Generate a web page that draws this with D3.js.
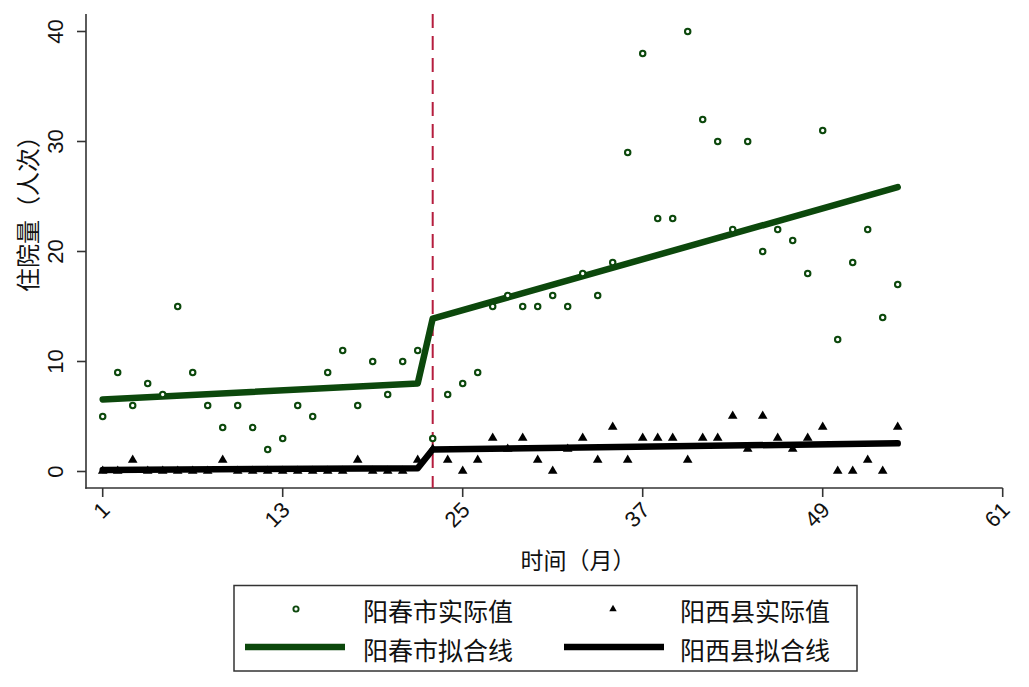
<!DOCTYPE html>
<html>
  <head>
    <meta charset="utf-8" />
    <title>阳春市 / 阳西县 住院量</title>
    <script src="https://d3js.org/d3.v7.min.js"></script>
    <style>
      body { margin: 0; background: #fff; }
      .tick-label { font-family: "Liberation Sans", Arial, sans-serif; font-size: 22px; fill: #111; }
      .cjk { font-family: "Noto Sans CJK SC", sans-serif; fill: #111; }
    </style>
  </head>
  <body>
    <script>
      // months on the x axis
      const months = [1,2,3,4,5,6,7,8,9,10,11,12,13,14,15,16,17,18,19,20,21,22,23,24,25,26,27,
                      28,29,30,31,32,33,34,35,36,37,38,39,40,41,42,43,44,45,46,47,48,49,50,51,52,53,54];
      // actual values
      const yangchun = [5,9,6,8,7,15,9,6,4,6,4,2,3,6,5,9,11,6,10,7,10,11,3,7,8,9,15,
                        16,15,15,16,15,18,16,19,29,38,23,23,40,32,30,22,30,20,22,21,18,31,12,19,22,14,17];
      const yangxi = [0,0,1,0,0,0,0,0,1,0,0,0,0,0,0,0,0,1,0,0,0,1,2,1,0,1,3,
                      2,3,1,0,2,3,1,4,1,3,3,3,1,3,3,5,2,5,3,2,3,4,0,0,1,0,4];
      // fitted lines (segment end points, pre and post intervention)
      const fitMonths = [1, 22, 23, 54];
      const yangchunFit = [6.55, 8.0, 13.9, 25.85];
      const yangxiFit = [0.14, 0.3, 2.0, 2.56];
      const interventionMonth = 23;
      const xTicks = [1, 13, 25, 37, 49, 61];
      const yTicks = [0, 10, 20, 30, 40];

      const width = 1029, height = 687;
      const green = "#0c480c", red = "#b51d3e";

      var svg = d3.select("body")
        .append("svg")
        .attr("width", width)
        .attr("height", height);

      const x = d3.scaleLinear().domain([1, 61]).range([102.7, 1002.7]);
      const y = d3.scaleLinear().domain([0, 40]).range([471.5, 31.5]);

      const axisLeft = 86, axisBottom = 488, axisTop = 14;

      // axis lines
      svg.append("line")
        .attr("x1", axisLeft).attr("x2", axisLeft)
        .attr("y1", axisTop).attr("y2", axisBottom + 0.75)
        .attr("stroke", "#333").attr("stroke-width", 1.6);
      svg.append("line")
        .attr("x1", axisLeft - 0.75).attr("x2", x(61))
        .attr("y1", axisBottom).attr("y2", axisBottom)
        .attr("stroke", "#333").attr("stroke-width", 1.6);

      // y ticks
      var yAxis = svg.append("g").attr("class", "y axis");
      yAxis.selectAll("line")
        .data(yTicks)
        .join("line")
        .attr("x1", axisLeft - 9).attr("x2", axisLeft)
        .attr("y1", d => y(d)).attr("y2", d => y(d))
        .attr("stroke", "#333").attr("stroke-width", 1.6);
      yAxis.selectAll("text")
        .data(yTicks)
        .join("text")
        .attr("class", "tick-label")
        .attr("transform", d => "translate(63," + y(d) + ") rotate(-90)")
        .attr("text-anchor", "middle")
        .text(d => d);

      // x ticks
      var xAxis = svg.append("g").attr("class", "x axis");
      xAxis.selectAll("line")
        .data(xTicks)
        .join("line")
        .attr("x1", d => x(d)).attr("x2", d => x(d))
        .attr("y1", axisBottom).attr("y2", axisBottom + 9)
        .attr("stroke", "#333").attr("stroke-width", 1.6);
      xAxis.selectAll("text")
        .data(xTicks)
        .join("text")
        .attr("class", "tick-label")
        .attr("transform", d => "translate(" + (x(d) + 3) + "," + (axisBottom + 18) + ") rotate(-45)")
        .attr("text-anchor", "end")
        .attr("dy", "0.35em")
        .text(d => d);

      // axis titles
      svg.append("text")
        .attr("class", "cjk")
        .attr("transform", "translate(37,208) rotate(-90)")
        .attr("text-anchor", "middle")
        .style("font-size", "24px")
        .text("住院量（人次）");
      svg.append("text")
        .attr("class", "cjk")
        .attr("x", 578).attr("y", 569)
        .attr("text-anchor", "middle")
        .style("font-size", "23px")
        .text("时间（月）");

      // intervention line
      svg.append("line")
        .attr("x1", x(interventionMonth)).attr("x2", x(interventionMonth))
        .attr("y1", axisTop).attr("y2", axisBottom)
        .attr("stroke", red).attr("stroke-width", 2)
        .attr("stroke-dasharray", "14,8");

      // fitted lines
      const line = d3.line().x(d => x(d[0])).y(d => y(d[1]));
      svg.append("path")
        .datum(fitMonths.map((m, i) => [m, yangxiFit[i]]))
        .attr("d", line)
        .attr("fill", "none").attr("stroke", "#000")
        .attr("stroke-width", 6.5).attr("stroke-linejoin", "round").attr("stroke-linecap", "round");
      svg.append("path")
        .datum(fitMonths.map((m, i) => [m, yangchunFit[i]]))
        .attr("d", line)
        .attr("fill", "none").attr("stroke", green)
        .attr("stroke-width", 6.5).attr("stroke-linejoin", "round").attr("stroke-linecap", "round");

      // actual values
      const tri = d3.symbol().type(d3.symbolTriangle).size(40);
      svg.append("g")
        .selectAll("path")
        .data(months.map((m, i) => [m, yangxi[i]]))
        .join("path")
        .attr("d", tri)
        .attr("transform", d => "translate(" + x(d[0]) + "," + (y(d[1]) - 0.5) + ")")
        .attr("fill", "#000");
      svg.append("g")
        .selectAll("circle")
        .data(months.map((m, i) => [m, yangchun[i]]))
        .join("circle")
        .attr("cx", d => x(d[0]))
        .attr("cy", d => y(d[1]))
        .attr("r", 2.7)
        .attr("fill", "#fff")
        .attr("stroke", green)
        .attr("stroke-width", 2.1);

      // legend
      var legend = svg.append("g").attr("class", "legend");
      legend.append("rect")
        .attr("x", 234).attr("y", 585.5)
        .attr("width", 623).attr("height", 85.5)
        .attr("fill", "#fff").attr("stroke", "#333").attr("stroke-width", 1.5);

      const row1 = 609, row2 = 647;
      legend.append("circle")
        .attr("cx", 296).attr("cy", row1).attr("r", 2.6)
        .attr("fill", "#fff").attr("stroke", green).attr("stroke-width", 1.9);
      legend.append("path")
        .attr("d", d3.symbol().type(d3.symbolTriangle).size(24))
        .attr("transform", "translate(613," + row1 + ")")
        .attr("fill", "#000");
      legend.append("line")
        .attr("x1", 245).attr("x2", 345).attr("y1", row2).attr("y2", row2)
        .attr("stroke", green).attr("stroke-width", 6.5);
      legend.append("line")
        .attr("x1", 564).attr("x2", 664).attr("y1", row2).attr("y2", row2)
        .attr("stroke", "#000").attr("stroke-width", 6.5);

      const legendItems = [
        { label: "阳春市实际值", tx: 363, ty: row1 + 3 },
        { label: "阳西县实际值", tx: 680, ty: row1 + 3 },
        { label: "阳春市拟合线", tx: 363, ty: row2 + 4 },
        { label: "阳西县拟合线", tx: 680, ty: row2 + 4 }
      ];
      legend.selectAll("text")
        .data(legendItems)
        .join("text")
        .attr("class", "cjk")
        .attr("x", d => d.tx)
        .attr("y", d => d.ty)
        .attr("dy", "0.35em")
        .style("font-size", "25px")
        .text(d => d.label);
    </script>
  </body>
</html>
